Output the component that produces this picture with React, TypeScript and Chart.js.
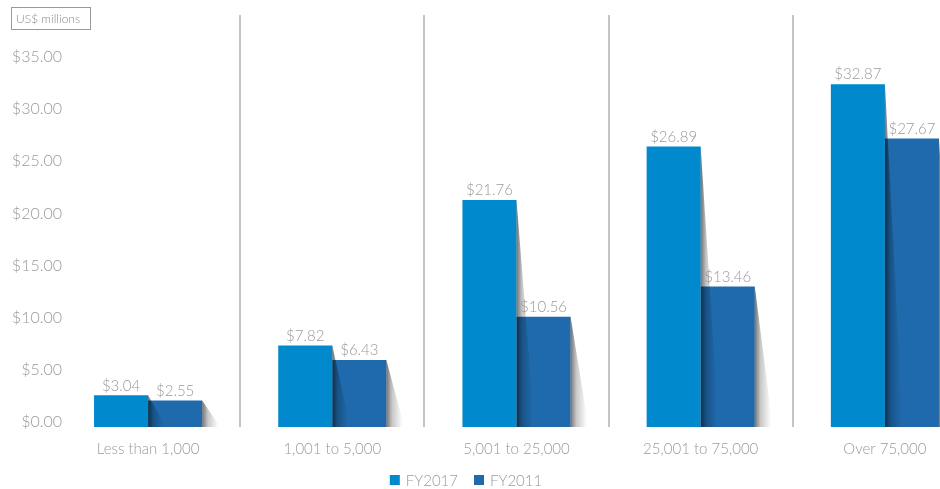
import React, { useEffect, useRef } from "react";
import { Chart, registerables } from "chart.js";

Chart.register(...registerables);

const categories = ["Less than 1,000", "1,001 to 5,000", "5,001 to 25,000", "25,001 to 75,000", "Over 75,000"];
const seriesNames = ["FY2017", "FY2011"];
const fy2017 = [3.04, 7.82, 21.76, 26.89, 32.87];
const fy2011 = [2.55, 6.43, 10.56, 13.46, 27.67];
const yTickValues = [0, 5, 10, 15, 20, 25, 30, 35];
const unitLabel = "US$ millions";

const COLORS = ["#0089cd", "#1f6aad"];
const TEXT = "#9a9a9a";
const FONT = "Lato, 'Open Sans', sans-serif";

const money = (v: number) => "$" + v.toFixed(2);

// Diagonal drop shadow to the right of each bar, then the value above it
const barDecor = {
  id: "barDecor",
  afterDatasetsDraw(chart: any) {
    const ctx = chart.ctx;
    const base = chart.scales.y.getPixelForValue(0);
    ctx.save();
    chart.data.datasets.forEach((_ds: any, di: number) => {
      chart.getDatasetMeta(di).data.forEach((bar: any) => {
        const right = bar.x + bar.width / 2;
        const top = bar.y;
        const spread = 18;
        const g = ctx.createLinearGradient(right, 0, right + spread * 0.9, 0);
        g.addColorStop(0, "rgba(0,0,0,0.55)");
        g.addColorStop(0.35, "rgba(0,0,0,0.22)");
        g.addColorStop(1, "rgba(0,0,0,0)");
        ctx.fillStyle = g;
        ctx.beginPath();
        ctx.moveTo(right, top);
        ctx.lineTo(right + spread, base);
        ctx.lineTo(right, base);
        ctx.closePath();
        ctx.fill();
      });
    });
    ctx.fillStyle = TEXT;
    ctx.font = `300 15px ${FONT}`;
    ctx.textAlign = "center";
    ctx.textBaseline = "bottom";
    chart.data.datasets.forEach((ds: any, di: number) => {
      chart.getDatasetMeta(di).data.forEach((bar: any, i: number) => {
        ctx.fillText(money(ds.data[i]), bar.x, bar.y - 2);
      });
    });
    ctx.restore();
  },
  afterDraw(chart: any) {
    const ctx = chart.ctx;
    const y = chart.scales.y;
    ctx.save();
    // value axis labels, right-aligned just inside the plot's left edge
    ctx.fillStyle = TEXT;
    ctx.font = `300 16px ${FONT}`;
    ctx.textAlign = "right";
    ctx.textBaseline = "middle";
    yTickValues.forEach((v) => {
      ctx.fillText(money(v), 62, y.getPixelForValue(v) - 5);
    });
    // unit box
    ctx.strokeStyle = "#9a9a9a";
    ctx.lineWidth = 1;
    ctx.strokeRect(11.5, 7.5, 79, 22);
    ctx.fillStyle = "#8a8a8a";
    ctx.font = `300 12px ${FONT}`;
    ctx.textAlign = "left";
    ctx.fillText(unitLabel, 16, 19);
    // legend
    ctx.font = `300 15px ${FONT}`;
    const box = 10;
    const gap = 6;
    const spacing = 16;
    const widths = seriesNames.map((n) => ctx.measureText(n).width);
    const total = widths.reduce((a, w) => a + box + gap + w, 0) + spacing * (seriesNames.length - 1);
    let x = 466 - total / 2;
    const cy = 480;
    seriesNames.forEach((n, i) => {
      ctx.fillStyle = COLORS[i];
      ctx.fillRect(x, cy - box / 2, box, box);
      ctx.fillStyle = TEXT;
      ctx.fillText(n, x + box + gap, cy + 1);
      x += box + gap + widths[i] + spacing;
    });
    ctx.restore();
  },
};

export default function App() {
  const ref = useRef<HTMLCanvasElement>(null);

  useEffect(() => {
    if (!ref.current) return;
    const chart = new Chart(ref.current, {
      type: "bar",
      data: {
        labels: categories,
        datasets: [
          { label: seriesNames[0], data: fy2017, backgroundColor: COLORS[0] },
          { label: seriesNames[1], data: fy2011, backgroundColor: COLORS[1] },
        ],
      },
      options: {
        animation: false,
        responsive: false,
        maintainAspectRatio: false,
        datasets: { bar: { categoryPercentage: 0.587, barPercentage: 1.0, borderWidth: 0 } },
        layout: { padding: { top: 15, bottom: 18, left: 0, right: 0 } },
        plugins: { legend: { display: false }, tooltip: { enabled: false } },
        scales: {
          x: {
            offset: true,
            border: { display: false },
            grid: {
              display: true,
              offset: true,
              drawTicks: false,
              lineWidth: 2,
              color: (c: any) => (c.index === 0 ? "rgba(0,0,0,0)" : "#c4c4c4"),
            },
            ticks: { color: TEXT, font: { family: FONT, size: 15, weight: "300" }, padding: 13, maxRotation: 0 },
          },
          y: {
            min: 0,
            max: 39.5,
            border: { display: false },
            grid: { display: false, drawTicks: false },
            afterFit: (s: any) => {
              s.width = 56;
            },
            afterBuildTicks: (s: any) => {
              s.ticks = yTickValues.map((v) => ({ value: v }));
            },
            ticks: { display: false },
          },
        },
      },
      plugins: [barDecor],
    });
    return () => chart.destroy();
  }, []);

  return (
    <div style={{ position: "absolute", left: 0, top: 0, width: 940, height: 489, overflow: "hidden", background: "#fff" }}>
      <canvas ref={ref} width={977} height={489} style={{ display: "block", width: 977, height: 489 }} />
    </div>
  );
}
